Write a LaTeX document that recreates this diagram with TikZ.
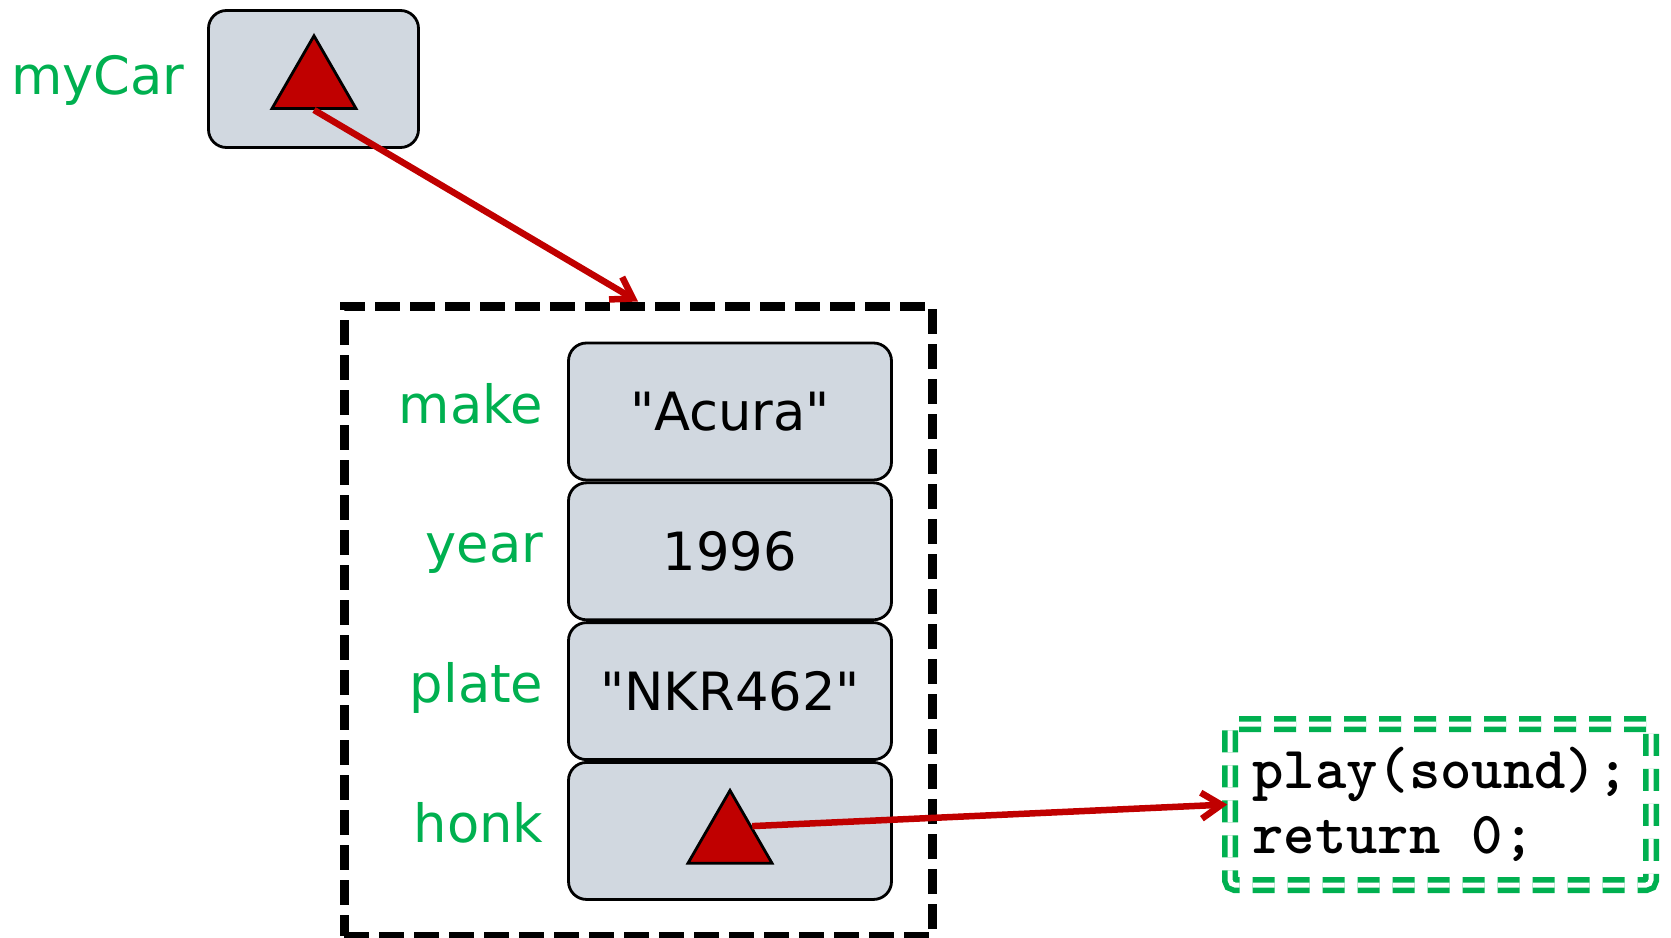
\documentclass[tikz,border=0pt]{standalone}
\usepackage{fontspec}
\newfontfamily\fieldfont{DejaVu Sans}[Ligatures=TeXOff]
\usepackage{tikz}
\usetikzlibrary{positioning,shapes.geometric,arrows.meta}
\definecolor{lblgreen}{HTML}{00B050}
\definecolor{ptrred}{HTML}{C00000}
\definecolor{boxgray}{HTML}{D1D8E0}

\begin{document}
\begin{tikzpicture}[field/.style={draw, line width=0.8pt, fill=boxgray, rounded corners=0.18cm, minimum width=3.23cm, minimum height=1.37cm, inner sep=0pt, font=\fieldfont\fontsize{15}{18}\selectfont},
        fieldlabel/.style={text=lblgreen, inner sep=0pt, font=\fieldfont\fontsize{15}{18}\selectfont},
        ptr/.style={regular polygon, regular polygon sides=3, draw, line width=0.8pt, fill=ptrred, minimum size=0.97cm, inner sep=0pt},
        ref/.style={draw=ptrred, line width=0.065cm, -{Straight Barb[length=0.2cm,width=0.26cm]}},
        objline/.style={draw, line width=0.09cm, dash pattern=on 0.25cm off 0.1cm, minimum width=5.88cm, minimum height=6.3cm},
        codebox/.style={draw=lblgreen, double=white, double distance=0.05cm, line width=0.055cm, dash pattern=on 0.22cm off 0.13cm, rounded corners=0.05cm, minimum width=4.21cm, minimum height=1.61cm, align=left, font=\ttfamily\bfseries\fontsize{17}{18.5}\selectfont}]
                \useasboundingbox (0,0) rectangle (16.71,-9.38);
                \node[field, minimum width=2.1cm, minimum height=1.37cm] (carbox) at (3.135,-0.79) {};
                \node[ptr] (tri1) at (3.14,-0.843) {};
                \node[fieldlabel, anchor=base east] (carlbl) at ([xshift=-0.22cm, yshift=-0.16cm]carbox.west) {myCar};
                \node[objline] (objbox) at (6.38,-6.21) {};
                \node[field] (make) at (7.30,-4.115) {"Acura"};
                \node[field, below=0pt of make] (year) {1996};
                \node[field, below=0pt of year] (plate) {"NKR462"};
                \node[field, below=0pt of plate] (honk) {};
                \node[ptr] (tri2) at ([yshift=-0.08cm]honk.center) {};
                \node[fieldlabel, anchor=base east] (makelbl) at ([xshift=-0.23cm, yshift=-0.115cm]make.west) {make};
                \node[fieldlabel, anchor=base east] (yearlbl) at ([xshift=-0.23cm, yshift=-0.115cm]year.west) {year};
                \node[fieldlabel, anchor=base east] (platelbl) at ([xshift=-0.23cm, yshift=-0.115cm]plate.west) {plate};
                \node[fieldlabel, anchor=base east] (honklbl) at ([xshift=-0.23cm, yshift=-0.115cm]honk.west) {honk};
                \node[codebox] (code) at (14.405,-8.045) {play(sound);\\return 0;};
                \draw[ref] (tri1.side 2) -- (objbox.north);
                \draw[ref] (tri2.side 3) -- (code.west);
            \end{tikzpicture}
\end{document}
